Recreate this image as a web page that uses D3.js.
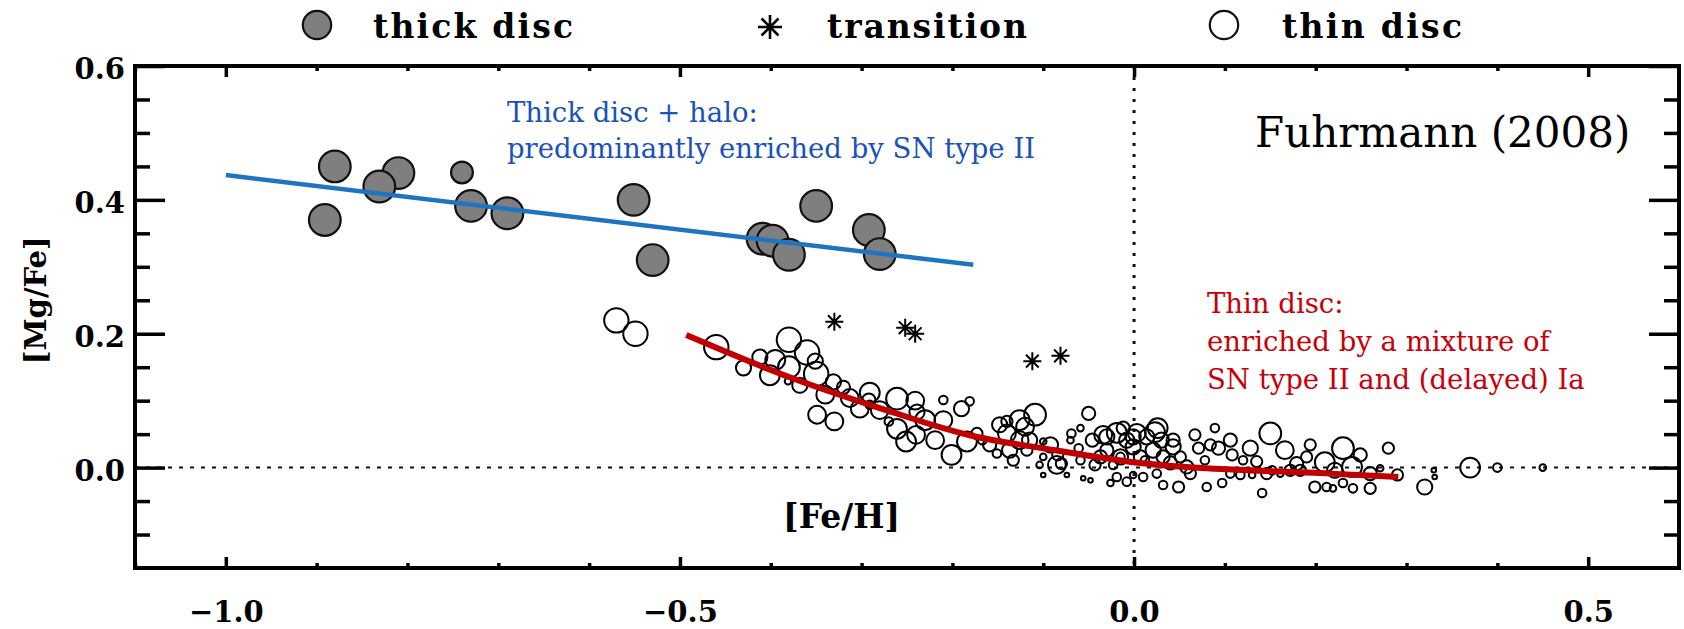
<!DOCTYPE html>
<html>
<head>
<meta charset="utf-8">
<script src="https://cdn.jsdelivr.net/npm/d3@7"></script>
<style>
  html, body { margin: 0; padding: 0; background: #fff; }
  svg { display: block; }
</style>
</head>
<body>
<svg id="chart" width="1684" height="629"></svg>
<script>
// ---- Thick disc stars: [Fe/H], [Mg/Fe], symbol size
const thickFeH  = [-0.880, -0.891, -0.810, -0.831, -0.740, -0.730, -0.690, -0.551, -0.530, -0.409, -0.398, -0.380, -0.350, -0.292, -0.280];
const thickMgFe = [ 0.450,  0.370,  0.440,  0.420,  0.441,  0.391,  0.380,  0.400,  0.310,  0.342,  0.339,  0.318,  0.391,  0.355,  0.319];
const thickSize = [4.8, 4.8, 4.8, 4.8, 3.3, 4.8, 4.8, 4.8, 4.8, 4.8, 4.8, 4.8, 4.8, 4.8, 4.8];

// ---- Transition stars
const transFeH  = [-0.330, -0.252, -0.241, -0.112, -0.081];
const transMgFe = [ 0.218,  0.209,  0.200,  0.159,  0.167];

// ---- Thin disc stars
const thinFeH = [
  -0.570, -0.549, -0.460, -0.430, -0.401, -0.380, -0.380, -0.381, -0.360, -0.351,
  -0.350, -0.349, -0.330, -0.331, -0.320, -0.302, -0.291, -0.292, -0.291, -0.270,
  -0.261, -0.261, -0.251, -0.241, -0.239, -0.240, -0.210, -0.210, -0.201, -0.190,
  -0.181, -0.184, -0.173, -0.167, -0.140, -0.140, -0.109, -0.120, -0.126, -0.137,
  -0.118, -0.100, -0.100, -0.104, -0.151, -0.133, -0.085, -0.080, -0.050, -0.059,
  -0.069, -0.070, -0.061, -0.059, -0.056, -0.048, -0.074, -0.100, -0.030, -0.030,
  -0.012, -0.008, -0.023, -0.015, -0.015, -0.001, -0.026, -0.008,  0.010,  0.014,
   0.026,  0.030,  0.043,  0.051,  0.032,  0.012,  0.025,  0.032,  0.049,  0.062,
   0.071,  0.078,  0.089,  0.093,  0.108,  0.080,  0.097,  0.106,  0.120,  0.117,
   0.130,  0.150,  0.135,  0.146,  0.141,  0.152,  0.161,  0.179,  0.190,  0.183,
   0.199,  0.210,  0.212,  0.230,  0.240,  0.260,  0.271,  0.280,  0.290,  0.219,
   0.230,  0.241,  0.260,  0.320,  0.330,  0.331,  0.370,  0.400,  0.450, -0.001,
  -0.019, -0.034, -0.019,  0.003, -0.001,  0.007, -0.037,  0.023,  0.043,  0.021,
   0.058,  0.040, -0.126, -0.148, -0.115, -0.092, -0.084, -0.046, -0.043, -0.230,
  -0.219, -0.280, -0.313, -0.340, -0.368, -0.395, -0.412, -0.159,  0.128,  0.166,
   0.172,  0.249,  0.221,  0.194,  0.106,  0.084,  0.067
];
const thinMgFe = [
   0.220,  0.200,  0.180,  0.149,  0.138,  0.191,  0.150,  0.129,  0.172,  0.159,
   0.140,  0.079,  0.069,  0.128,  0.120,  0.088,  0.112,  0.101,  0.094,  0.069,
   0.103,  0.058,  0.039,  0.100,  0.083,  0.049,  0.101,  0.071,  0.019,  0.088,
   0.099,  0.039,  0.051,  0.041,  0.069,  0.051,  0.079,  0.061,  0.041,  0.026,
   0.026,  0.039,  0.016,  0.004,  0.021,  0.011,  0.004,  0.006,  0.081,  0.059,
   0.051,  0.041,  0.029,  0.011, -0.016, -0.019, -0.011, -0.011,  0.046,  0.026,
   0.059,  0.041,  0.004,  0.016,  0.016, -0.011, -0.023, -0.021, -0.014,  0.046,
   0.059,  0.041,  0.041,  0.016,  0.016,  0.011, -0.009, -0.026, -0.029, -0.009,
   0.029,  0.011,  0.059,  0.029,  0.019, -0.029, -0.023, -0.009,  0.011, -0.011,
  -0.011,  0.051,  0.009, -0.009, -0.038, -0.004, -0.009,  0.006,  0.016, -0.004,
  -0.029,  0.008, -0.029,  0.029,  0.001, -0.009, -0.001,  0.029, -0.011, -0.031,
  -0.023, -0.031, -0.031, -0.029, -0.004, -0.014,  0.000,  0.000,  0.000,  0.046,
  -0.014,  0.049,  0.052,  0.052,  0.031,  0.016,  0.016,  0.053,  0.031,  0.026,
   0.001,  0.007,  0.071,  0.064,  0.041,  0.034,  0.019,  0.041,  0.004,  0.071,
   0.041,  0.086,  0.104,  0.109,  0.123,  0.161,  0.165,  0.034,  0.029,  0.026,
  -0.004,  0.019, -0.004,  0.034,  0.041,  0.034,  0.049
];
const thinSize = [
  3.7, 3.7, 3.7, 2.3, 3.0, 3.7, 3.3, 1.0, 3.7, 2.3,
  3.7, 2.7, 2.7, 2.3, 2.0, 2.7, 3.0, 2.0, 1.3, 1.3,
  3.3, 3.0, 3.0, 2.7, 2.3, 2.7, 1.3, 2.7, 3.0, 2.3,
  1.3, 3.0, 1.7, 1.3, 1.7, 2.7, 3.3, 2.7, 2.7, 2.3,
  1.7, 1.0, 1.0, 1.0, 1.3, 1.7, 2.7, 1.7, 2.0, 1.0,
  1.3, 1.0, 1.3, 1.3, 0.7, 0.7, 0.7, 0.7, 2.3, 2.0,
  2.0, 2.3, 1.3, 2.3, 1.3, 1.0, 1.0, 1.3, 1.3, 2.3,
  3.0, 2.3, 2.0, 1.7, 2.0, 1.3, 1.3, 1.3, 1.7, 1.7,
  1.7, 1.3, 1.3, 2.0, 1.7, 1.3, 1.3, 1.3, 1.3, 1.3,
  1.0, 3.3, 1.7, 1.7, 1.3, 1.3, 1.0, 2.0, 1.7, 1.7,
  1.7, 3.0, 1.3, 3.3, 3.0, 2.0, 1.0, 1.7, 1.7, 1.0,
  1.3, 1.3, 1.7, 2.3, 0.7, 0.7, 3.0, 1.3, 1.0, 2.3,
  1.3, 2.7, 3.0, 2.7, 2.3, 2.0, 2.0, 3.0, 2.3, 2.3,
  2.0, 2.0, 3.0, 2.3, 2.3, 2.3, 1.7, 2.0, 1.7, 3.0,
  2.7, 2.7, 2.7, 2.7, 2.3, 3.0, 2.3, 2.0, 2.3, 2.7,
  1.7, 2.0, 2.3, 1.7, 2.0, 1.7, 1.7
];

// ---- Trend lines
const thickTrendFeH  = [-1.000, -0.177];
const thickTrendMgFe = [ 0.437,  0.303];
const thinTrendFeH  = [-0.493, -0.385, -0.280, -0.180, -0.087, 0.012, 0.216, 0.291];
const thinTrendMgFe = [ 0.198,  0.138,  0.089,  0.048,  0.026, 0.006, -0.009, -0.014];

// ---- Axis ticks
const xMajor = [-1.0, -0.5, 0.0, 0.5];
const xMinor = [-1.1, -0.9, -0.8, -0.7, -0.6, -0.4, -0.3, -0.2, -0.1, 0.1, 0.2, 0.3, 0.4];
const yMajor = [0.6, 0.4, 0.2, 0.0];
const yMinor = [-0.1, -0.05, 0.05, 0.1, 0.15, 0.25, 0.3, 0.35, 0.45, 0.5, 0.55];

const svg = d3.select("#chart");
const x = d3.scaleLinear().domain([-1.1, 0.6]).range([135, 1679]);
const y = d3.scaleLinear().domain([-0.15, 0.6]).range([568, 66]);
const rad = d3.scaleLinear().domain([0, 1]).range([0, 3.3]);

const serif = "'DejaVu Serif', serif";

// zero reference lines
svg.append("line")
  .attr("x1", x(-1.1)).attr("x2", x(0.6))
  .attr("y1", y(0)).attr("y2", y(0))
  .attr("stroke", "#111").attr("stroke-width", 2)
  .attr("stroke-dasharray", "4 7");
svg.append("line")
  .attr("x1", x(0)).attr("x2", x(0))
  .attr("y1", y(0.6)).attr("y2", y(-0.15))
  .attr("stroke", "#111").attr("stroke-width", 3)
  .attr("stroke-dasharray", "3 8");

// axes: ticks point inward on all four sides
function finish(g) {
  g.select(".domain").remove();
  g.selectAll(".tick line").attr("stroke", "#000").attr("stroke-width", 3.5);
  g.selectAll(".tick text")
    .attr("fill", "#000")
    .style("font-family", serif)
    .style("font-weight", "bold")
    .style("font-size", "29px");
}
const fmt = d3.format(".1f");

svg.append("g").attr("transform", `translate(0,${y(-0.15)})`)
  .call(d3.axisBottom(x).tickValues(xMajor).tickSize(-11).tickPadding(33).tickFormat(fmt)).call(finish);
svg.append("g").attr("transform", `translate(0,${y(-0.15)})`)
  .call(d3.axisBottom(x).tickValues(xMinor).tickSize(-5).tickFormat("")).call(finish);
svg.append("g").attr("transform", `translate(0,${y(0.6)})`)
  .call(d3.axisTop(x).tickValues(xMajor).tickSize(-11).tickFormat("")).call(finish);
svg.append("g").attr("transform", `translate(0,${y(0.6)})`)
  .call(d3.axisTop(x).tickValues(xMinor).tickSize(-5).tickFormat("")).call(finish);

const yl = svg.append("g").attr("transform", `translate(${x(-1.1)},0)`)
  .call(d3.axisLeft(y).tickValues(yMajor).tickSize(-30).tickPadding(10).tickFormat(fmt)).call(finish);
yl.selectAll(".tick text").attr("dy", "0.43em");
svg.append("g").attr("transform", `translate(${x(-1.1)},0)`)
  .call(d3.axisLeft(y).tickValues(yMinor).tickSize(-15).tickFormat("")).call(finish);
svg.append("g").attr("transform", `translate(${x(0.6)},0)`)
  .call(d3.axisRight(y).tickValues(yMajor).tickSize(-30).tickFormat("")).call(finish);
svg.append("g").attr("transform", `translate(${x(0.6)},0)`)
  .call(d3.axisRight(y).tickValues(yMinor).tickSize(-15).tickFormat("")).call(finish);

// frame
svg.append("rect")
  .attr("x", x(-1.1)).attr("y", y(0.6))
  .attr("width", x(0.6) - x(-1.1)).attr("height", y(-0.15) - y(0.6))
  .attr("fill", "none").attr("stroke", "#000").attr("stroke-width", 4);

// axis titles
svg.append("text")
  .attr("transform", `translate(46,${y(0.25)}) rotate(-90)`)
  .attr("text-anchor", "middle")
  .style("font-family", serif).style("font-weight", "bold").style("font-size", "29px")
  .text("[Mg/Fe]");
svg.append("text")
  .attr("x", x(-0.322)).attr("y", y(-0.09))
  .attr("text-anchor", "middle")
  .style("font-family", serif).style("font-weight", "bold").style("font-size", "33px")
  .text("[Fe/H]");

// thin disc
const thin = thinFeH.map((v, i) => ({ x: v, y: thinMgFe[i], s: thinSize[i] }));
svg.append("g").selectAll("circle").data(thin).join("circle")
  .attr("cx", d => x(d.x)).attr("cy", d => y(d.y)).attr("r", d => rad(d.s))
  .attr("fill", "none").attr("stroke", "#000").attr("stroke-width", 2);

// thick disc
const thick = thickFeH.map((v, i) => ({ x: v, y: thickMgFe[i], s: thickSize[i] }));
svg.append("g").selectAll("circle").data(thick).join("circle")
  .attr("cx", d => x(d.x)).attr("cy", d => y(d.y)).attr("r", d => rad(d.s))
  .attr("fill", "#7f7f7f").attr("stroke", "#111").attr("stroke-width", 2.2);

// transition stars drawn as eight-armed asterisks
function asterisk(h) {
  const d = h / Math.SQRT2;
  return `M0,${-h}V${h}M${-h},0H${h}M${-d},${-d}L${d},${d}M${-d},${d}L${d},${-d}`;
}
const trans = transFeH.map((v, i) => ({ x: v, y: transMgFe[i] }));
svg.append("g").selectAll("path").data(trans).join("path")
  .attr("transform", d => `translate(${x(d.x)},${y(d.y)})`)
  .attr("d", asterisk(9))
  .attr("fill", "none").attr("stroke", "#000").attr("stroke-width", 2);

// trend lines
const line = d3.line().x(d => x(d[0])).y(d => y(d[1]));
svg.append("path")
  .datum(thickTrendFeH.map((v, i) => [v, thickTrendMgFe[i]]))
  .attr("d", line)
  .attr("fill", "none").attr("stroke", "#1f74c2").attr("stroke-width", 4.5);
svg.append("path")
  .datum(thinTrendFeH.map((v, i) => [v, thinTrendMgFe[i]]))
  .attr("d", line.curve(d3.curveMonotoneX))
  .attr("fill", "none").attr("stroke", "#c00000").attr("stroke-width", 6);

// annotations
const blue = "#1a52b8", red = "#c8000a";
const ann = svg.append("g").style("font-family", serif).style("font-size", "27.5px");
ann.append("text").attr("x", 507).attr("y", 122).attr("fill", blue).text("Thick disc + halo:");
ann.append("text").attr("x", 507).attr("y", 158).attr("fill", blue).text("predominantly enriched by SN type II");
ann.append("text").attr("x", 1207).attr("y", 313).attr("fill", red).text("Thin disc:");
ann.append("text").attr("x", 1207).attr("y", 351).attr("fill", red).text("enriched by a mixture of");
ann.append("text").attr("x", 1207).attr("y", 389).attr("fill", red).text("SN type II and (delayed) Ia");
svg.append("text").attr("x", 1255).attr("y", 147)
  .style("font-family", serif).style("font-size", "42px").attr("fill", "#000")
  .text("Fuhrmann (2008)");

// legend
const lg = svg.append("g");
const lgFont = t => t.style("font-family", serif).style("font-weight", "bold").style("font-size", "33px");
lg.append("circle").attr("cx", 317).attr("cy", 25).attr("r", rad(4.3))
  .attr("fill", "#7f7f7f").attr("stroke", "#111").attr("stroke-width", 2.2);
lg.append("text").attr("x", 373).attr("y", 38).attr("textLength", 200).call(lgFont).text("thick disc");
lg.append("path").attr("transform", "translate(770,27)").attr("d", asterisk(12))
  .attr("fill", "none").attr("stroke", "#000").attr("stroke-width", 2.6);
lg.append("text").attr("x", 827).attr("y", 38).attr("textLength", 200).call(lgFont).text("transition");
lg.append("circle").attr("cx", 1224).attr("cy", 25).attr("r", rad(4.3))
  .attr("fill", "none").attr("stroke", "#111").attr("stroke-width", 2.2);
lg.append("text").attr("x", 1282).attr("y", 38).attr("textLength", 180).call(lgFont).text("thin disc");
</script>
</body>
</html>
